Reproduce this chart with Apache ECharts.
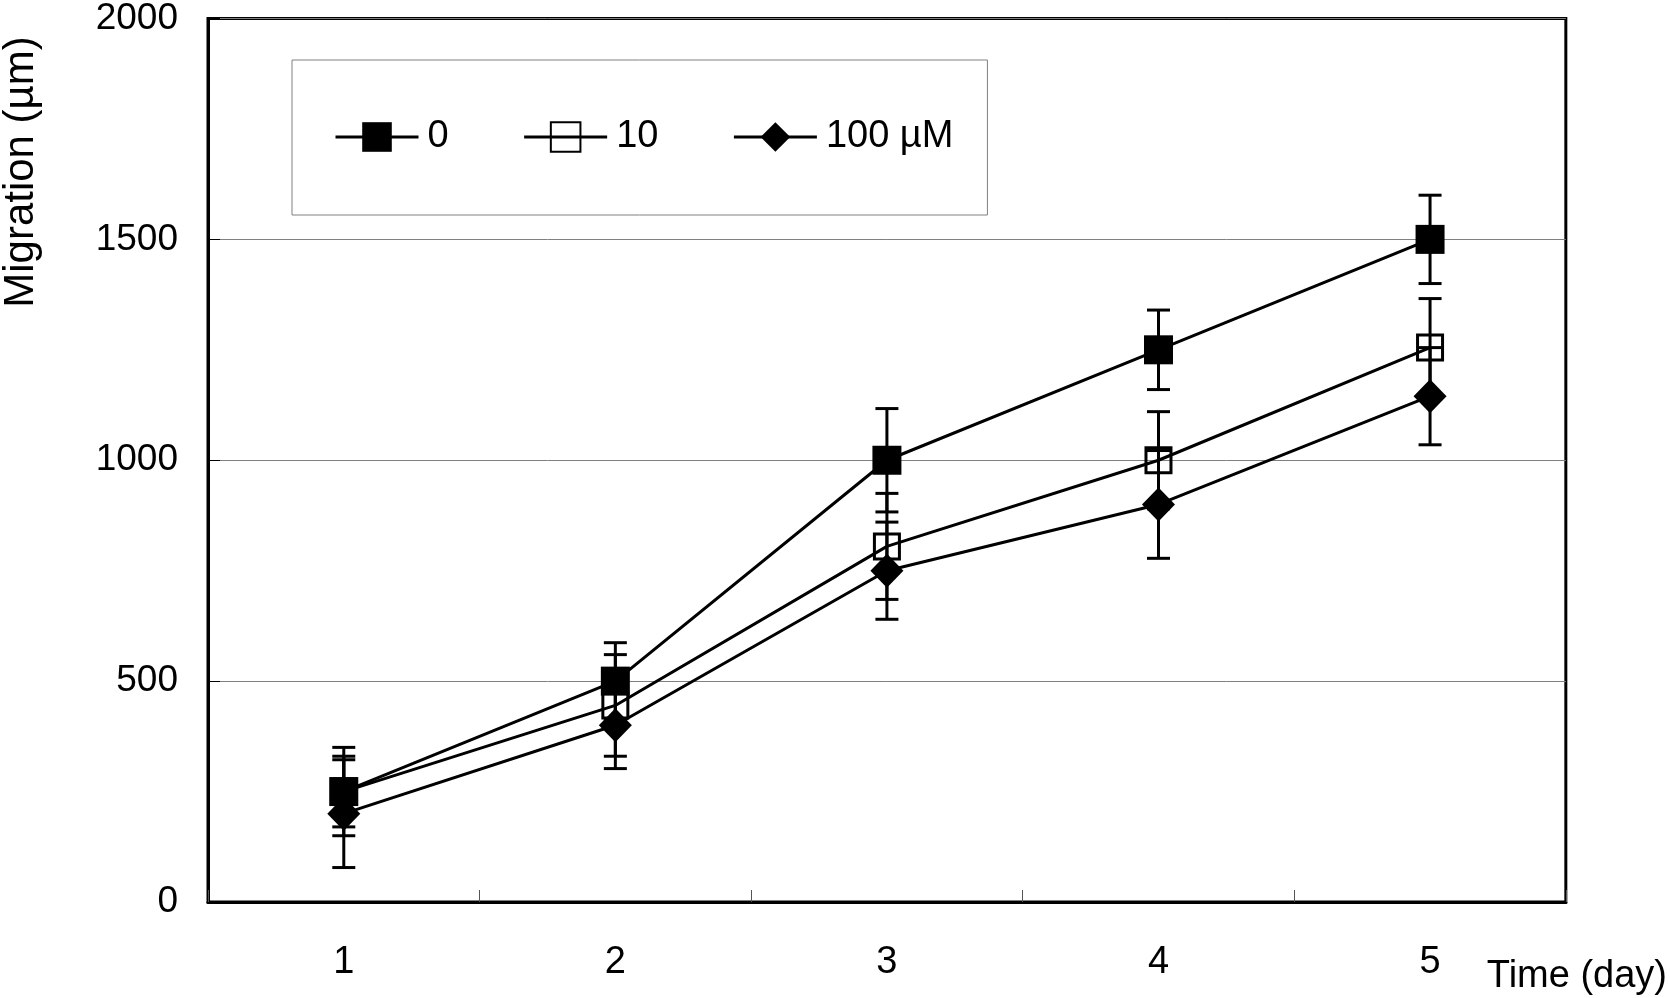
<!DOCTYPE html>
<html>
<head>
<meta charset="utf-8">
<script src="https://cdn.jsdelivr.net/npm/echarts@6/dist/echarts.min.js"></script>
<style>html,body{margin:0;padding:0;background:#fff;}#c{width:1670px;height:998px;}</style>
</head>
<body>
<div id="c"></div>
<script>
// ---- data ----
const days = ['1', '2', '3', '4', '5'];
const seriesNames = ['0', '10', '100 µM'];
const s0Values = [250, 500, 1000, 1250, 1500];
const s0Err    = [100, 87, 117, 90, 100];
const s1Values = [250, 445, 805, 1000, 1255];
const s1Err    = [80, 115, 120, 110, 111];
const s2Values = [200, 400, 750, 900, 1145];
const s2Err    = [122, 98, 110, 122, 110];
const yTicks = [0, 500, 1000, 1500, 2000];

const FONT = "'Liberation Sans', Arial, sans-serif";

function errData(vals, errs) {
  return vals.map((v, i) => [i, v - errs[i], v + errs[i]]);
}

function errRender(params, api) {
  const x = api.value(0);
  const lo = api.coord([x, api.value(1)]);
  const hi = api.coord([x, api.value(2)]);
  const hw = 11.5;
  const st = { stroke: '#000', lineWidth: 3 };
  return {
    type: 'group',
    children: [
      { type: 'line', shape: { x1: lo[0], y1: lo[1], x2: hi[0], y2: hi[1] }, style: st },
      { type: 'line', shape: { x1: lo[0] - hw, y1: lo[1], x2: lo[0] + hw, y2: lo[1] }, style: st },
      { type: 'line', shape: { x1: hi[0] - hw, y1: hi[1], x2: hi[0] + hw, y2: hi[1] }, style: st }
    ]
  };
}

function errSeries(vals, errs) {
  return {
    type: 'custom',
    data: errData(vals, errs),
    renderItem: errRender,
    z: 1,
    silent: true,
    encode: { x: 0, y: [1, 2] }
  };
}

const chart = echarts.init(document.getElementById('c'), null, { renderer: 'canvas' });
chart.setOption({
  animation: false,
  backgroundColor: '#fff',
  textStyle: { fontFamily: FONT, color: '#000' },
  grid: {
    left: 208, right: 101, top: 16, bottom: 96,
    show: true, borderColor: '#000', borderWidth: 3, backgroundColor: 'transparent'
  },
  legend: {
    data: seriesNames,
    left: 292, top: 60,
    orient: 'horizontal',
    padding: [58, 34, 59, 42],
    itemWidth: 83, itemHeight: 37, itemGap: 74,
    borderColor: '#808080', borderWidth: 1,
    lineStyle: { color: '#000', width: 3 },
    textStyle: { fontFamily: FONT, fontSize: 38, color: '#000', padding: [0, 0, 0, 4] },
    selectedMode: false
  },
  xAxis: {
    type: 'category',
    data: days,
    boundaryGap: true,
    name: 'Time (day)',
    nameLocation: 'end',
    nameGap: -79,
    nameTextStyle: { fontFamily: FONT, fontSize: 38, color: '#000', align: 'left', verticalAlign: 'top', padding: [56, 0, 0, 0] },
    axisLine: { lineStyle: { color: '#000', width: 3 } },
    axisTick: { show: true, inside: true, length: 12, lineStyle: { color: '#555', width: 1 } },
    axisLabel: { fontFamily: FONT, fontSize: 38, color: '#000', margin: 42 },
    splitLine: { show: false }
  },
  yAxis: {
    type: 'value',
    min: yTicks[0], max: yTicks[yTicks.length - 1], interval: 500,
    axisLine: { show: true, lineStyle: { color: '#000', width: 3 } },
    axisTick: { show: true, inside: true, length: 12, lineStyle: { color: '#000', width: 1 } },
    axisLabel: { fontFamily: FONT, fontSize: 37, color: '#000', margin: 30, formatter: v => String(v) },
    splitLine: { show: true, lineStyle: { color: '#808080', width: 1 } }
  },
  graphic: [{
    type: 'text',
    x: 21, y: 172,
    rotation: Math.PI / 2,
    style: {
      text: 'Migration (µm)',
      fontFamily: FONT, fontSize: 42, fill: '#000',
      align: 'center', verticalAlign: 'middle'
    }
  }],
  series: [
    errSeries(s1Values, s1Err),
    errSeries(s2Values, s2Err),
    errSeries(s0Values, s0Err),
    {
      name: seriesNames[1], type: 'line', data: s1Values,
      symbol: 'rect', symbolSize: 25, z: 3,
      lineStyle: { color: '#000', width: 3 },
      itemStyle: { color: 'rgba(255,255,255,0)', borderColor: '#000', borderWidth: 3 },
      emphasis: { disabled: true }
    },
    {
      name: seriesNames[2], type: 'line', data: s2Values,
      symbol: 'diamond', symbolSize: [33, 34], z: 3,
      lineStyle: { color: '#000', width: 3 },
      itemStyle: { color: '#000' },
      emphasis: { disabled: true }
    },
    {
      name: seriesNames[0], type: 'line', data: s0Values,
      symbol: 'rect', symbolSize: 29, z: 4,
      lineStyle: { color: '#000', width: 3 },
      itemStyle: { color: '#000' },
      emphasis: { disabled: true }
    }
  ]
});
</script>
</body>
</html>
